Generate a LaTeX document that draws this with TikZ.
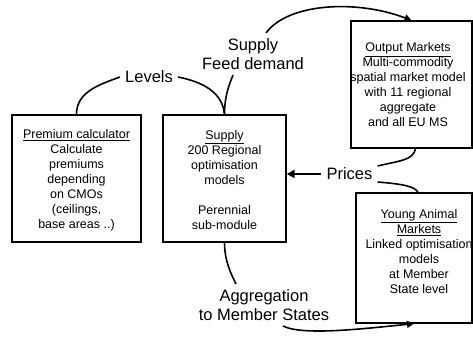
\documentclass[tikz,border=0pt]{standalone}
\usepackage{fontspec}
\setmainfont{Liberation Sans}
\usetikzlibrary{arrows.meta, positioning}

\begin{document}
\begin{tikzpicture}[x=1pt, y=-1pt,
    box/.style={draw, line width=1.3pt, inner sep=0pt},
    boxtext/.style={align=center, inner sep=0pt, font=\fontsize{12.5}{15}\selectfont},
    flow/.style={align=center, inner sep=5pt, font=\fontsize{16.5}{19.5}\selectfont},
    link/.style={line width=1.6pt},
    tip/.style={-{Triangle[length=7pt,width=7pt]}}]
  \useasboundingbox (0,0) rectangle (473,338);

  % model blocks
  \node[box, minimum width=129pt, minimum height=127pt] (prem) at (76.5,178.5) {};
  \node[box, minimum width=123pt, minimum height=127pt] (supply) at (224.5,178.5) {};
  \node[box, minimum width=121pt, minimum height=127pt] (output) at (411.5,84.5) {};
  \node[box, minimum width=116pt, minimum height=130pt] (young) at (414,258) {};

  \node[boxtext] (premtxt) at (76.5,180) {\underline{Premium calculator}\\Calculate\\premiums\\depending\\on CMOs\\(ceilings,\\base areas ..)};
  \node[boxtext] (supplytxt) at (224.5,180) {\underline{Supply}\\200 Regional\\optimisation\\models\\[15pt]Perennial\\sub-module};
  \node[boxtext] (outputtxt) at (408,85) {\underline{Output Markets}\\Multi-commodity\\spatial market model\\with 11 regional\\aggregate\\and all EU MS};
  \node[boxtext] (youngtxt) at (419,251.5) {\underline{Young Animal}\\\underline{Markets}\\Linked optimisation\\models\\at Member\\State level};

  % flow labels
  \node[flow] (levels) at (149,77) {Levels};
  \node[flow] (feed) at (253,54) {Supply\\Feed demand};
  \node[font=\fontsize{16.5}{19.5}\selectfont, inner sep=5pt] (prices) at (349.5,174) {Prices};
  \node[flow] (aggr) at (264,305) {Aggregation\\to Member States};

  % connectors
  \draw[link] (prem.north) .. controls +(0,-22) and +(-22,8) .. (levels.west);
  \draw[link] (levels.east) .. controls +(25,5) and +(-2,-22) .. (supply.north);
  \draw[link] (supply.north) .. controls +(0,-18) and +(-4,10) .. ([xshift=-20pt]feed.south);
  \draw[link, tip] ([xshift=13pt]feed.north) .. controls +(22,-30) and +(-55,-21) .. (output.north);
  \draw[link] ([xshift=4pt]output.south) .. controls +(-2,12) and +(20,-5) .. ([yshift=8pt]prices.east);
  \draw[link] ([yshift=-8pt]prices.east) .. controls +(25,2) and +(-3,-6) .. ([xshift=4pt]young.north);
  \draw[line width=2.6pt, -{Triangle[length=8pt,width=8pt]}] (prices.west) -- (prices.west -| supply.east);
  \draw[link] (supply.south) .. controls +(0,18) and +(-5,-10) .. ([xshift=-28pt]aggr.north);
  \draw[link, tip] ([xshift=19pt]aggr.south) .. controls +(20,10) and +(-50,5) .. (young.south);
\end{tikzpicture}
\end{document}
